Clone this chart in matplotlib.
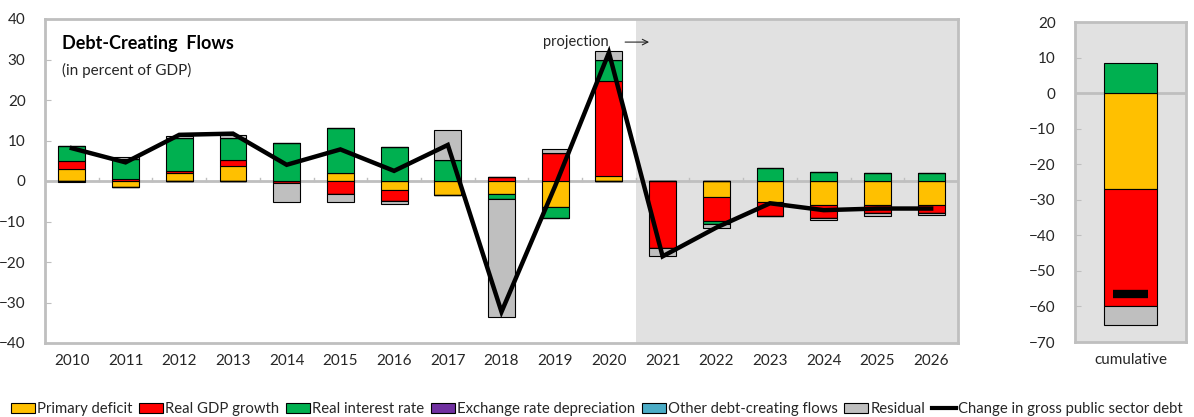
import numpy as np
import matplotlib
matplotlib.use("Agg")
import matplotlib.pyplot as plt
from matplotlib.patches import Patch
from matplotlib.lines import Line2D

plt.rcParams['font.family'] = ['Lato', 'DejaVu Sans']

years = [str(y) for y in range(2010, 2027)]
primary_deficit = [2.9, -1.5, 1.9, 3.8, 0.0, 1.9, -2.1, -3.5, -3.3, -6.3, 1.2, 0.0, -4.0, -5.1, -5.9, -5.9, -5.9]
real_gdp_growth = [2.0, 0.4, 0.6, 1.3, -0.6, -3.3, -2.8, 0.0, 1.1, 6.8, 23.6, -16.6, -5.8, -3.5, -3.2, -2.1, -2.1]
real_interest = [3.7, 5.1, 8.0, 5.6, 9.3, 11.1, 8.3, 5.2, -1.1, -2.8, 5.2, 0.0, -0.8, 3.1, 2.3, 2.0, 1.9]
exchange_rate = [0.0] * 17
other_flows = [0.0] * 17
residual = [-0.3, 0.5, 0.5, 0.7, -4.7, -1.8, -0.9, 7.3, -29.1, 1.0, 2.1, -1.9, -1.1, 0.0, -0.5, -0.6, -0.5]
debt_change = [8.1, 4.6, 11.4, 11.7, 4.0, 7.8, 2.5, 8.9, -32.3, -1.2, 31.7, -18.6, -11.5, -5.5, -7.2, -6.8, -6.8]

cum_primary = -27.1
cum_real_gdp = -32.8
cum_real_interest = 8.4
cum_exchange = 0.0
cum_other = 0.0
cum_residual = -5.3
cum_debt_change = -56.6

series_names = ["Primary deficit", "Real GDP growth", "Real interest rate",
                "Exchange rate depreciation", "Other debt-creating flows", "Residual"]
colors = ["#FFC000", "#FF0000", "#00B050", "#7030A0", "#4BACC6", "#BFBFBF"]

GRID = "#BFBFBF"
TXT = "#262626"

fig = plt.figure(figsize=(11.94, 4.17), dpi=100)
ax = fig.add_axes([45/1194, 74/417, 913/1194, 324/417])
ax2 = fig.add_axes([1075/1194, 75/417, 111/1194, 320/417])

x = np.arange(len(years))
all_series = [primary_deficit, real_gdp_growth, real_interest, exchange_rate, other_flows, residual]
pos_base = np.zeros(len(years))
neg_base = np.zeros(len(years))
for vals, c in zip(all_series, colors):
    v = np.array(vals, dtype=float)
    pos = np.where(v > 0, v, 0)
    neg = np.where(v < 0, v, 0)
    ax.bar(x, pos, 0.5, bottom=pos_base, color=c, edgecolor="black", linewidth=0.8, zorder=3)
    ax.bar(x, neg, 0.5, bottom=neg_base, color=c, edgecolor="black", linewidth=0.8, zorder=3)
    pos_base += pos
    neg_base += neg

ax.plot(x, debt_change, color="black", lw=3.2, zorder=5, solid_joinstyle="miter")

ax.axvspan(10.5, 16.5, color="#E1E1E1", zorder=0, lw=0)
ax.axhline(0, color=GRID, lw=2, zorder=2)
for b in np.arange(0.5, len(years) - 1, 1):
    ax.plot([b, b], [0, 0.8], color=GRID, lw=1, zorder=2)

ax.set_xlim(-0.5, 16.5)
ax.set_ylim(-40, 40)
ax.set_yticks(np.arange(-40, 41, 10))
ax.set_xticks(x)
ax.set_xticklabels(years)
ax.tick_params(axis="x", length=0, pad=8, labelsize=11, colors=TXT)
ax.tick_params(axis="y", direction="in", length=4, color=GRID, pad=14, labelsize=11, labelcolor=TXT)
for s in ax.spines.values():
    s.set_color(GRID)
    s.set_linewidth(2)

ax.text(0.019, 0.925, "Debt-Creating  Flows", transform=ax.transAxes, fontsize=13,
        fontweight="bold", color="black", va="center", ha="left")
ax.text(0.019, 0.842, "(in percent of GDP)", transform=ax.transAxes, fontsize=11,
        color=TXT, va="center", ha="left")
ax.text(10.0, 34.3, "projection", fontsize=10.5, color=TXT, va="center", ha="right")
ax.annotate("", xy=(10.8, 34.3), xytext=(10.25, 34.3),
            arrowprops=dict(arrowstyle="->", color=TXT, lw=0.8))

# cumulative panel
cum_vals = [cum_primary, cum_real_gdp, cum_real_interest, cum_exchange, cum_other, cum_residual]
pb, nb = 0.0, 0.0
for v, c in zip(cum_vals, colors):
    if v > 0:
        ax2.bar(0, v, 0.97, bottom=pb, color=c, edgecolor="black", linewidth=0.8, zorder=3)
        pb += v
    elif v < 0:
        ax2.bar(0, v, 0.97, bottom=nb, color=c, edgecolor="black", linewidth=0.8, zorder=3)
        nb += v
ax2.hlines(cum_debt_change, -0.31, 0.31, color="black", lw=6, zorder=5)
ax2.set_facecolor("#E1E1E1")
ax2.axhline(0, color=GRID, lw=2, zorder=2)
ax2.set_xlim(-1, 1)
ax2.set_ylim(-70, 20)
ax2.set_yticks(np.arange(-70, 21, 10))
ax2.set_xticks([0])
ax2.set_xticklabels(["cumulative"])
ax2.tick_params(axis="x", length=0, pad=8, labelsize=11, colors=TXT)
ax2.tick_params(axis="y", direction="in", length=4, color=GRID, pad=14, labelsize=11, labelcolor=TXT)
for s in ax2.spines.values():
    s.set_color(GRID)
    s.set_linewidth(2)

handles = [Patch(facecolor=c, edgecolor="black", linewidth=0.8) for c in colors]
handles.append(Line2D([0], [0], color="black", lw=3))
labels = series_names + ["Change in gross public sector debt"]
fig.legend(handles, labels, loc="center", bbox_to_anchor=(0.5, 8/417), ncol=7, frameon=False,
           fontsize=10.7, handlelength=1.6, handleheight=0.7, handletextpad=0.15,
           columnspacing=0.45, labelcolor=TXT, borderaxespad=0, borderpad=0)

fig.savefig("out.png", dpi=100)
